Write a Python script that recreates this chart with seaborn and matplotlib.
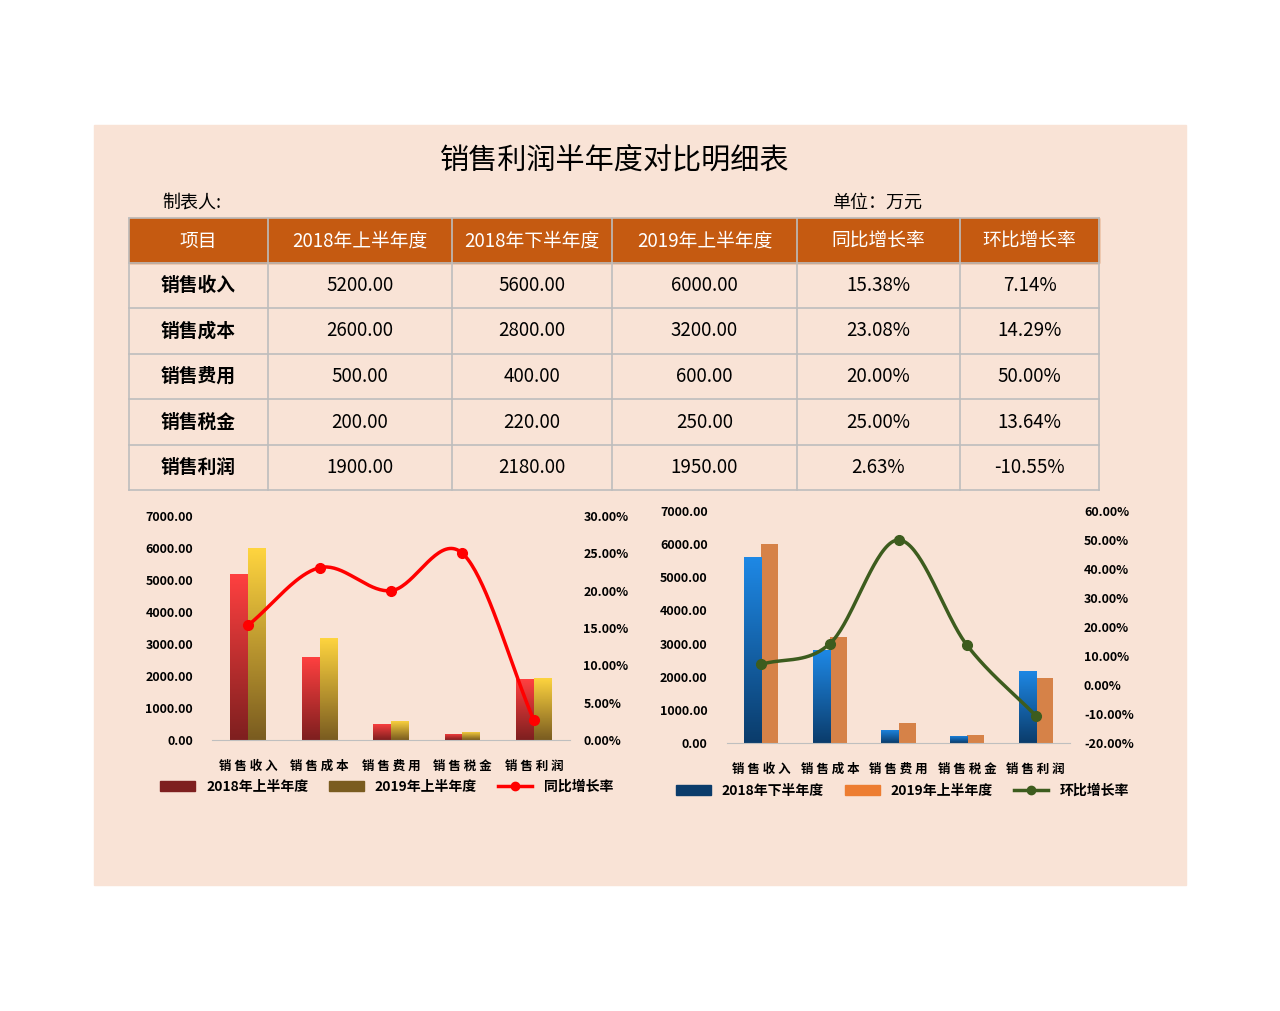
import numpy as np
import pandas as pd
import matplotlib
matplotlib.use("Agg")
import matplotlib.pyplot as plt
import seaborn as sns
from matplotlib.patches import Rectangle
from matplotlib.colors import LinearSegmentedColormap
from matplotlib.lines import Line2D

plt.rcParams["font.family"] = "Noto Sans CJK SC"

title = "销售利润半年度对比明细表"
headers = ["项目", "2018年上半年度", "2018年下半年度", "2019年上半年度", "同比增长率", "环比增长率"]
items = ["销售收入", "销售成本", "销售费用", "销售税金", "销售利润"]
h1_2018 = [5200, 2600, 500, 200, 1900]
h2_2018 = [5600, 2800, 400, 220, 2180]
h1_2019 = [6000, 3200, 600, 250, 1950]
yoy = [15.38, 23.08, 20.00, 25.00, 2.63]
mom = [7.14, 14.29, 50.00, -10.55, -10.55][:4] + [-10.55]
mom = [7.14, 14.29, 50.00, 13.64, -10.55]

W, H = 1280, 1011
fig = plt.figure(figsize=(12.8, 10.11), dpi=100, facecolor="white")
bg = "#F9E3D6"
base = fig.add_axes([0, 0, 1, 1])
base.set_xlim(0, W); base.set_ylim(H, 0); base.axis("off")
base.add_patch(Rectangle((94, 125), 1092, 760, color=bg, zorder=0))
base.text(615, 160, title, fontsize=21, ha="center", va="center")
base.text(162, 203, "制表人:", fontsize=13, va="center")
base.text(832, 203, "单位：万元", fontsize=13, va="center")

cols = [129, 268, 452, 612, 797, 960, 1099]
rows = [218, 263, 308, 354, 399, 445, 490]
base.add_patch(Rectangle((129, 218), 970, 45, color="#C55A11", zorder=1))
for i, h in enumerate(headers):
    base.text((cols[i] + cols[i+1]) / 2, 241, h, color="white", fontsize=13.5, ha="center", va="center", zorder=3)
for r in range(5):
    yc = (rows[r+1] + rows[r+2]) / 2
    vals = [items[r], f"{h1_2018[r]:.2f}", f"{h2_2018[r]:.2f}", f"{h1_2019[r]:.2f}", f"{yoy[r]:.2f}%", f"{mom[r]:.2f}%"]
    for i, v in enumerate(vals):
        base.text((cols[i] + cols[i+1]) / 2, yc, v, fontsize=13.5, ha="center", va="center",
                  fontweight="bold" if i == 0 else "normal", zorder=3)
for x in cols:
    base.plot([x, x], [218, 490], color="#BDBDBD", lw=1.2, zorder=2)
for y in rows:
    base.plot([129, 1099], [y, y], color="#BDBDBD", lw=1.2, zorder=2)


def smooth(xs, ys, n=40):
    xs = np.asarray(xs, float); ys = np.asarray(ys, float)
    px = np.concatenate([[2*xs[0]-xs[1]], xs, [2*xs[-1]-xs[-2]]])
    py = np.concatenate([[2*ys[0]-ys[1]], ys, [2*ys[-1]-ys[-2]]])
    ox, oy = [], []
    for i in range(1, len(px) - 2):
        t = np.linspace(0, 1, n)
        for p, o in ((px, ox), (py, oy)):
            p0, p1, p2, p3 = p[i-1], p[i], p[i+1], p[i+2]
            o.extend(0.5*((2*p1) + (-p0+p2)*t + (2*p0-5*p1+4*p2-p3)*t**2 + (-p0+3*p1-3*p2+p3)*t**3))
    return np.array(ox), np.array(oy)


def gradient_bars(ax, patches, top, bottom):
    cmap = LinearSegmentedColormap.from_list("g", [bottom, top])
    for p in patches:
        x0, y0, w, h = p.get_x(), p.get_y(), p.get_width(), p.get_height()
        if h <= 0:
            continue
        im = ax.imshow(np.linspace(0, 1, 100).reshape(-1, 1), cmap=cmap, origin="lower",
                       extent=[x0, x0 + w, y0, y0 + h], aspect="auto", zorder=2)
        im.set_clip_path(p)
        p.set_alpha(1)


def combo(rect, s1, s2, n1, n2, rate, rname, lcolor, rlim, rticks, grad1, grad2, leg_y, leg_x):
    ax = fig.add_axes(rect)
    ax.set_facecolor("none")
    df = pd.DataFrame({"item": items * 2, "val": s1 + s2, "series": [n1]*5 + [n2]*5})
    sns.barplot(data=df, x="item", y="val", hue="series", ax=ax, width=0.5, gap=0.0,
                palette=[grad1[0], grad2[0]], legend=False, zorder=2)
    pats = ax.patches
    gradient_bars(ax, pats[:5], *grad1)
    if grad2[0] != grad2[1]:
        gradient_bars(ax, pats[5:10], *grad2)
    ax.set_xlim(-0.5, 4.5)
    ax.set_ylim(0, 7000)
    ax.set_yticks(np.arange(0, 7001, 1000))
    ax.set_yticklabels([f"{v:.2f}" for v in np.arange(0, 7001, 1000)], fontsize=9, fontweight="bold")
    ax.set_xticks(range(5))
    ax.set_xticklabels([" ".join(i) for i in items], fontsize=9, fontweight="bold")
    ax.set_xlabel(""); ax.set_ylabel("")
    ax.tick_params(length=0, pad=14)
    for s in ["top", "right", "left"]:
        ax.spines[s].set_visible(False)
    ax.spines["bottom"].set_color("#BFBFBF")
    ax2 = ax.twinx()
    sx, sy = smooth(range(5), rate)
    ax2.plot(sx, sy, color=lcolor, lw=2.5, zorder=3)
    ax2.plot(range(5), rate, "o", color=lcolor, ms=7, zorder=4)
    ax2.set_ylim(*rlim)
    ax2.set_yticks(rticks)
    ax2.set_yticklabels([f"{v:.2f}%" for v in rticks], fontsize=9, fontweight="bold")
    ax2.tick_params(length=0, pad=10)
    for s in ax2.spines.values():
        s.set_visible(False)
    handles = [Rectangle((0, 0), 1, 1, color=grad1[1]), Rectangle((0, 0), 1, 1, color=grad2[1]),
               Line2D([], [], color=lcolor, lw=2.5, marker="o", ms=6)]
    fig.legend(handles, [n1, n2, rname], loc="center", bbox_to_anchor=(leg_x, leg_y), ncol=3,
               frameon=False, fontsize=10, handlelength=2.5, columnspacing=1.5,
               prop={"family": "Noto Sans CJK SC", "weight": "bold", "size": 10})


combo([0.166, 0.268, 0.279, 0.2216], h1_2018, h1_2019, "2018年上半年度", "2019年上半年度",
      yoy, "同比增长率", "#FF0000", (0, 30), np.arange(0, 30.1, 5),
      ("#FF4040", "#7E1F1F"), ("#FFD53F", "#7A5C20"), 1 - 787/H, 0.302)
combo([0.568, 0.265, 0.268, 0.2296], h2_2018, h1_2019, "2018年下半年度", "2019年上半年度",
      mom, "环比增长率", "#3D5C1E", (-20, 60), np.arange(-20, 60.1, 10),
      ("#1E88E5", "#0B3C6B"), ("#ED7D31", "#ED7D31"), 1 - 791/H, 0.705)

fig.savefig("out.png", dpi=100, facecolor="white")
